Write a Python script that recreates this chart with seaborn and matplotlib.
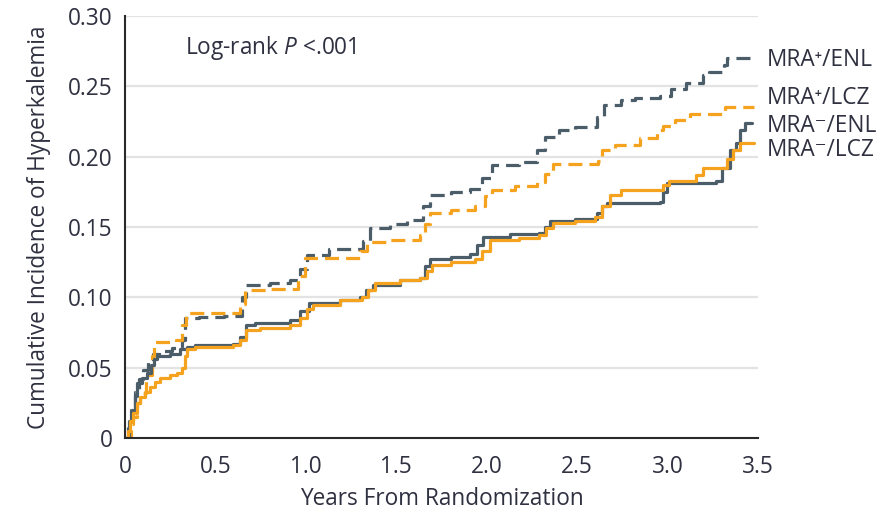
import matplotlib
matplotlib.use("Agg")
import matplotlib.pyplot as plt
import seaborn as sns
import pandas as pd

# ---------------- data (step points: time in years, cumulative incidence) -------------
mra_pos_enl_t = [0, 0.017, 0.033, 0.055, 0.077, 0.10, 0.127, 0.155, 0.19, 0.26, 0.315, 0.33,
                 0.41, 0.55, 0.645, 0.67, 0.80, 0.91, 0.97, 1.005, 1.13, 1.315, 1.355, 1.465,
                 1.56, 1.65, 1.685, 1.80, 1.91, 1.975, 2.03, 2.18, 2.28, 2.32, 2.40, 2.49,
                 2.61, 2.65, 2.74, 2.82, 2.96, 3.02, 3.10, 3.195, 3.23, 3.31, 3.33, 3.48]
mra_pos_enl_y = [0, 0.010, 0.022, 0.033, 0.042, 0.048, 0.054, 0.060, 0.062, 0.064, 0.070, 0.085,
                 0.086, 0.087, 0.100, 0.109, 0.110, 0.112, 0.120, 0.130, 0.134, 0.140, 0.149, 0.152,
                 0.155, 0.165, 0.173, 0.175, 0.177, 0.185, 0.194, 0.196, 0.205, 0.214, 0.219, 0.221,
                 0.228, 0.237, 0.240, 0.242, 0.243, 0.248, 0.252, 0.258, 0.260, 0.265, 0.270, 0.270]

mra_pos_lcz_t = [0, 0.033, 0.045, 0.065, 0.083, 0.115, 0.15, 0.16, 0.28, 0.315, 0.335, 0.635,
                 0.665, 0.80, 0.955, 0.995, 1.30, 1.34, 1.465, 1.63, 1.66, 1.685, 1.80, 1.935,
                 1.99, 2.03, 2.155, 2.28, 2.32, 2.365, 2.615, 2.64, 2.71, 2.85, 2.94, 2.975,
                 3.04, 3.125, 3.32, 3.48]
mra_pos_lcz_y = [0, 0.010, 0.015, 0.025, 0.032, 0.045, 0.058, 0.068, 0.070, 0.080, 0.089, 0.095,
                 0.105, 0.106, 0.115, 0.128, 0.133, 0.139, 0.141, 0.144, 0.152, 0.160, 0.162, 0.165,
                 0.172, 0.176, 0.179, 0.182, 0.188, 0.195, 0.197, 0.205, 0.208, 0.213, 0.219, 0.222,
                 0.226, 0.230, 0.235, 0.235]

mra_neg_enl_t = [0, 0.022, 0.04, 0.055, 0.066, 0.094, 0.12, 0.145, 0.16, 0.177, 0.25, 0.305,
                 0.343, 0.387, 0.60, 0.635, 0.67, 0.72, 0.91, 0.967, 1.02, 1.19, 1.30, 1.33,
                 1.37, 1.52, 1.63, 1.66, 1.685, 1.80, 1.91, 1.946, 1.98, 2.13, 2.29, 2.32,
                 2.35, 2.49, 2.61, 2.64, 2.665, 2.96, 2.975, 2.996, 3.27, 3.30, 3.345, 3.38,
                 3.40, 3.43, 3.465]
mra_neg_enl_y = [0, 0.012, 0.020, 0.030, 0.039, 0.043, 0.046, 0.052, 0.056, 0.058, 0.060, 0.063,
                 0.065, 0.066, 0.067, 0.072, 0.080, 0.082, 0.084, 0.090, 0.096, 0.098, 0.100, 0.105,
                 0.109, 0.112, 0.114, 0.122, 0.127, 0.129, 0.131, 0.137, 0.143, 0.145, 0.146, 0.150,
                 0.154, 0.156, 0.160, 0.165, 0.167, 0.168, 0.175, 0.181, 0.183, 0.192, 0.205, 0.210,
                 0.219, 0.224, 0.224]

mra_neg_lcz_t = [0, 0.017, 0.028, 0.045, 0.066, 0.083, 0.11, 0.138, 0.166, 0.193, 0.25, 0.287,
                 0.315, 0.33, 0.343, 0.387, 0.60, 0.635, 0.67, 0.745, 0.91, 0.967, 1.005, 1.04,
                 1.19, 1.31, 1.343, 1.38, 1.52, 1.63, 1.67, 1.70, 1.80, 1.935, 1.975, 2.02,
                 2.18, 2.29, 2.33, 2.365, 2.49, 2.60, 2.637, 2.68, 2.74, 2.975, 3.01, 3.16,
                 3.195, 3.33, 3.36, 3.40, 3.48]
mra_neg_lcz_y = [0, 0.005, 0.012, 0.018, 0.025, 0.029, 0.033, 0.036, 0.040, 0.043, 0.045, 0.046,
                 0.050, 0.058, 0.063, 0.065, 0.066, 0.070, 0.077, 0.078, 0.080, 0.085, 0.092, 0.0945,
                 0.098, 0.100, 0.105, 0.110, 0.112, 0.114, 0.119, 0.123, 0.125, 0.127, 0.133, 0.141,
                 0.142, 0.144, 0.149, 0.153, 0.154, 0.157, 0.165, 0.173, 0.176, 0.180, 0.183, 0.187,
                 0.192, 0.198, 0.205, 0.210, 0.210]

groups = ["MRA⁺/ENL", "MRA⁺/LCZ", "MRA⁻/ENL", "MRA⁻/LCZ"]
label_y = [0.269, 0.242, 0.222, 0.205]

x_ticks = [0, 0.5, 1.0, 1.5, 2.0, 2.5, 3.0, 3.5]
x_ticklabels = ["0", "0.5", "1.0", "1.5", "2.0", "2.5", "3.0", "3.5"]
y_ticks = [0, 0.05, 0.10, 0.15, 0.20, 0.25, 0.30]
y_ticklabels = ["0", "0.05", "0.10", "0.15", "0.20", "0.25", "0.30"]

# ---------------- build long table -------------
series = [(mra_pos_enl_t, mra_pos_enl_y), (mra_pos_lcz_t, mra_pos_lcz_y),
          (mra_neg_enl_t, mra_neg_enl_y), (mra_neg_lcz_t, mra_neg_lcz_y)]
frames = []
for g, (t, y) in zip(groups, series):
    frames.append(pd.DataFrame({"years": t, "incidence": y, "group": g}))
df = pd.concat(frames, ignore_index=True)

# ---------------- style -------------
sns.set_theme(style="white")
plt.rcParams["font.family"] = ["Open Sans", "DejaVu Sans"]
plt.rcParams["mathtext.fontset"] = "custom"
plt.rcParams["mathtext.rm"] = "Open Sans"
plt.rcParams["mathtext.it"] = "Open Sans:italic"

TEXT = "#2f3040"
DARK = "#4b5d68"
ORANGE = "#f5a21e"
FS = 16.3

palette = {groups[0]: DARK, groups[1]: ORANGE, groups[2]: DARK, groups[3]: ORANGE}
dashes = {groups[0]: (4.4, 2.2), groups[1]: (4.4, 2.2), groups[2]: "", groups[3]: ""}

fig = plt.figure(figsize=(8.82, 5.15), dpi=100)
ax = fig.add_axes([0.1417, 0.1495, 0.8594 - 0.1417, 0.969 - 0.1495])

for y in y_ticks[1:]:
    ax.axhline(y, color="#e3e3e3", lw=1.6, zorder=0)

sns.lineplot(data=df, x="years", y="incidence", hue="group", style="group",
             palette=palette, dashes=dashes, drawstyle="steps-post",
             estimator=None, sort=False, linewidth=2.3, legend=False, ax=ax)

ax.set_xlim(0, 3.5)
ax.set_ylim(0, 0.30)
ax.set_xticks(x_ticks)
ax.set_xticklabels(x_ticklabels)
ax.set_yticks(y_ticks)
ax.set_yticklabels(y_ticklabels)

for s in ["top", "right"]:
    ax.spines[s].set_visible(False)
for s in ["left", "bottom"]:
    ax.spines[s].set_color("#2a2a2a")
    ax.spines[s].set_linewidth(1.5)

ax.tick_params(axis="both", direction="out", length=5, width=1.4, color="#2a2a2a",
               labelsize=FS, labelcolor=TEXT)
ax.tick_params(axis="x", pad=7)
ax.tick_params(axis="y", pad=4)
ax.set_xlabel("Years From Randomization", fontsize=FS, color=TEXT, labelpad=6)
ax.set_ylabel("Cumulative Incidence of Hyperkalemia", fontsize=FS, color=TEXT, labelpad=12)

ax.text(0.33, 0.277, "Log-rank $P$ <.001", fontsize=FS, color=TEXT, va="center", ha="left")

for g, ly in zip(groups, label_y):
    ax.text(3.55, ly, g, fontsize=FS, color=TEXT, va="center", ha="left", clip_on=False)

fig.savefig("out.png", dpi=100)
